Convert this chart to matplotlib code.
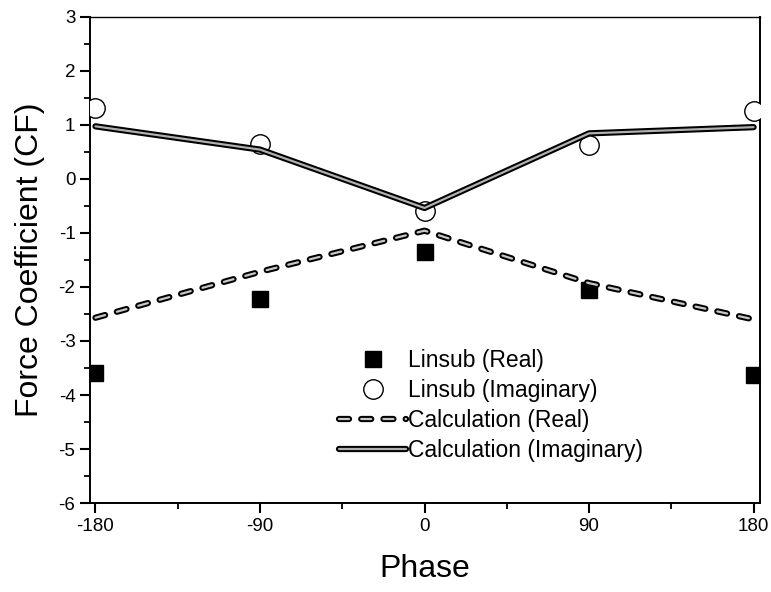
import matplotlib
matplotlib.use("Agg")
import matplotlib.pyplot as plt
import matplotlib.patheffects as pe
import numpy as np

plt.rcParams["font.family"] = ["Liberation Sans", "DejaVu Sans"]
plt.rcParams["axes.unicode_minus"] = False

# 数据
phase = [-180, -90, 0, 90, 180]
linsub_real = [-3.60, -2.22, -1.35, -2.05, -3.62]
linsub_imag = [1.31, 0.65, -0.59, 0.63, 1.26]
calc_real = [-2.57, -1.72, -0.96, -1.93, -2.60]
calc_imag = [0.97, 0.54, -0.54, 0.84, 0.955]

fig = plt.figure(figsize=(7.71, 5.92), dpi=100)
ax = fig.add_axes([0.1167, 0.150, 0.869, 0.822])

outline = [pe.Stroke(linewidth=4.5, foreground="black"), pe.Normal()]

ax.plot(phase, linsub_real, "s", color="black", markersize=11, linestyle="none",
        label="Linsub (Real)", zorder=3)
ax.plot(phase, linsub_imag, "o", markerfacecolor="white", markeredgecolor="black",
        markersize=14, markeredgewidth=1.0, linestyle="none",
        label="Linsub (Imaginary)", zorder=3)
ax.plot(phase, calc_real, color="#c8c8c8", lw=1.6, dashes=(4.5, 5.5),
        dash_capstyle="round", path_effects=outline, label="Calculation (Real)", zorder=4)
ax.plot(phase, calc_imag, color="#b0b0b0", lw=1.6, solid_capstyle="round",
        path_effects=outline, label="Calculation (Imaginary)", zorder=4)

ax.set_xlim(-183, 183.5)
ax.set_ylim(-6, 3)
ax.set_xticks([-180, -90, 0, 90, 180])
ax.set_xticks([-135, -45, 45, 135], minor=True)
ax.set_yticks(np.arange(-6, 4, 1))
ax.set_yticks(np.arange(-5.5, 3, 1), minor=True)
ax.tick_params(which="major", direction="out", length=7, width=1.5, labelsize=13.5)
ax.tick_params(which="minor", direction="out", length=4, width=1.3)
for s in ax.spines.values():
    s.set_linewidth(1.4)
ax.spines["top"].set_linewidth(1.0)

ax.set_xlabel("Phase", fontsize=23, labelpad=14)
ax.set_ylabel("Force Coefficient (CF)", fontsize=23, labelpad=10)

ax.legend(loc="upper left", bbox_to_anchor=(0.355, 0.34), frameon=False,
          fontsize=16.5, handlelength=2.9, handletextpad=0.1, labelspacing=0.3,
          borderpad=0, numpoints=1)

plt.savefig("out.png", dpi=100)
